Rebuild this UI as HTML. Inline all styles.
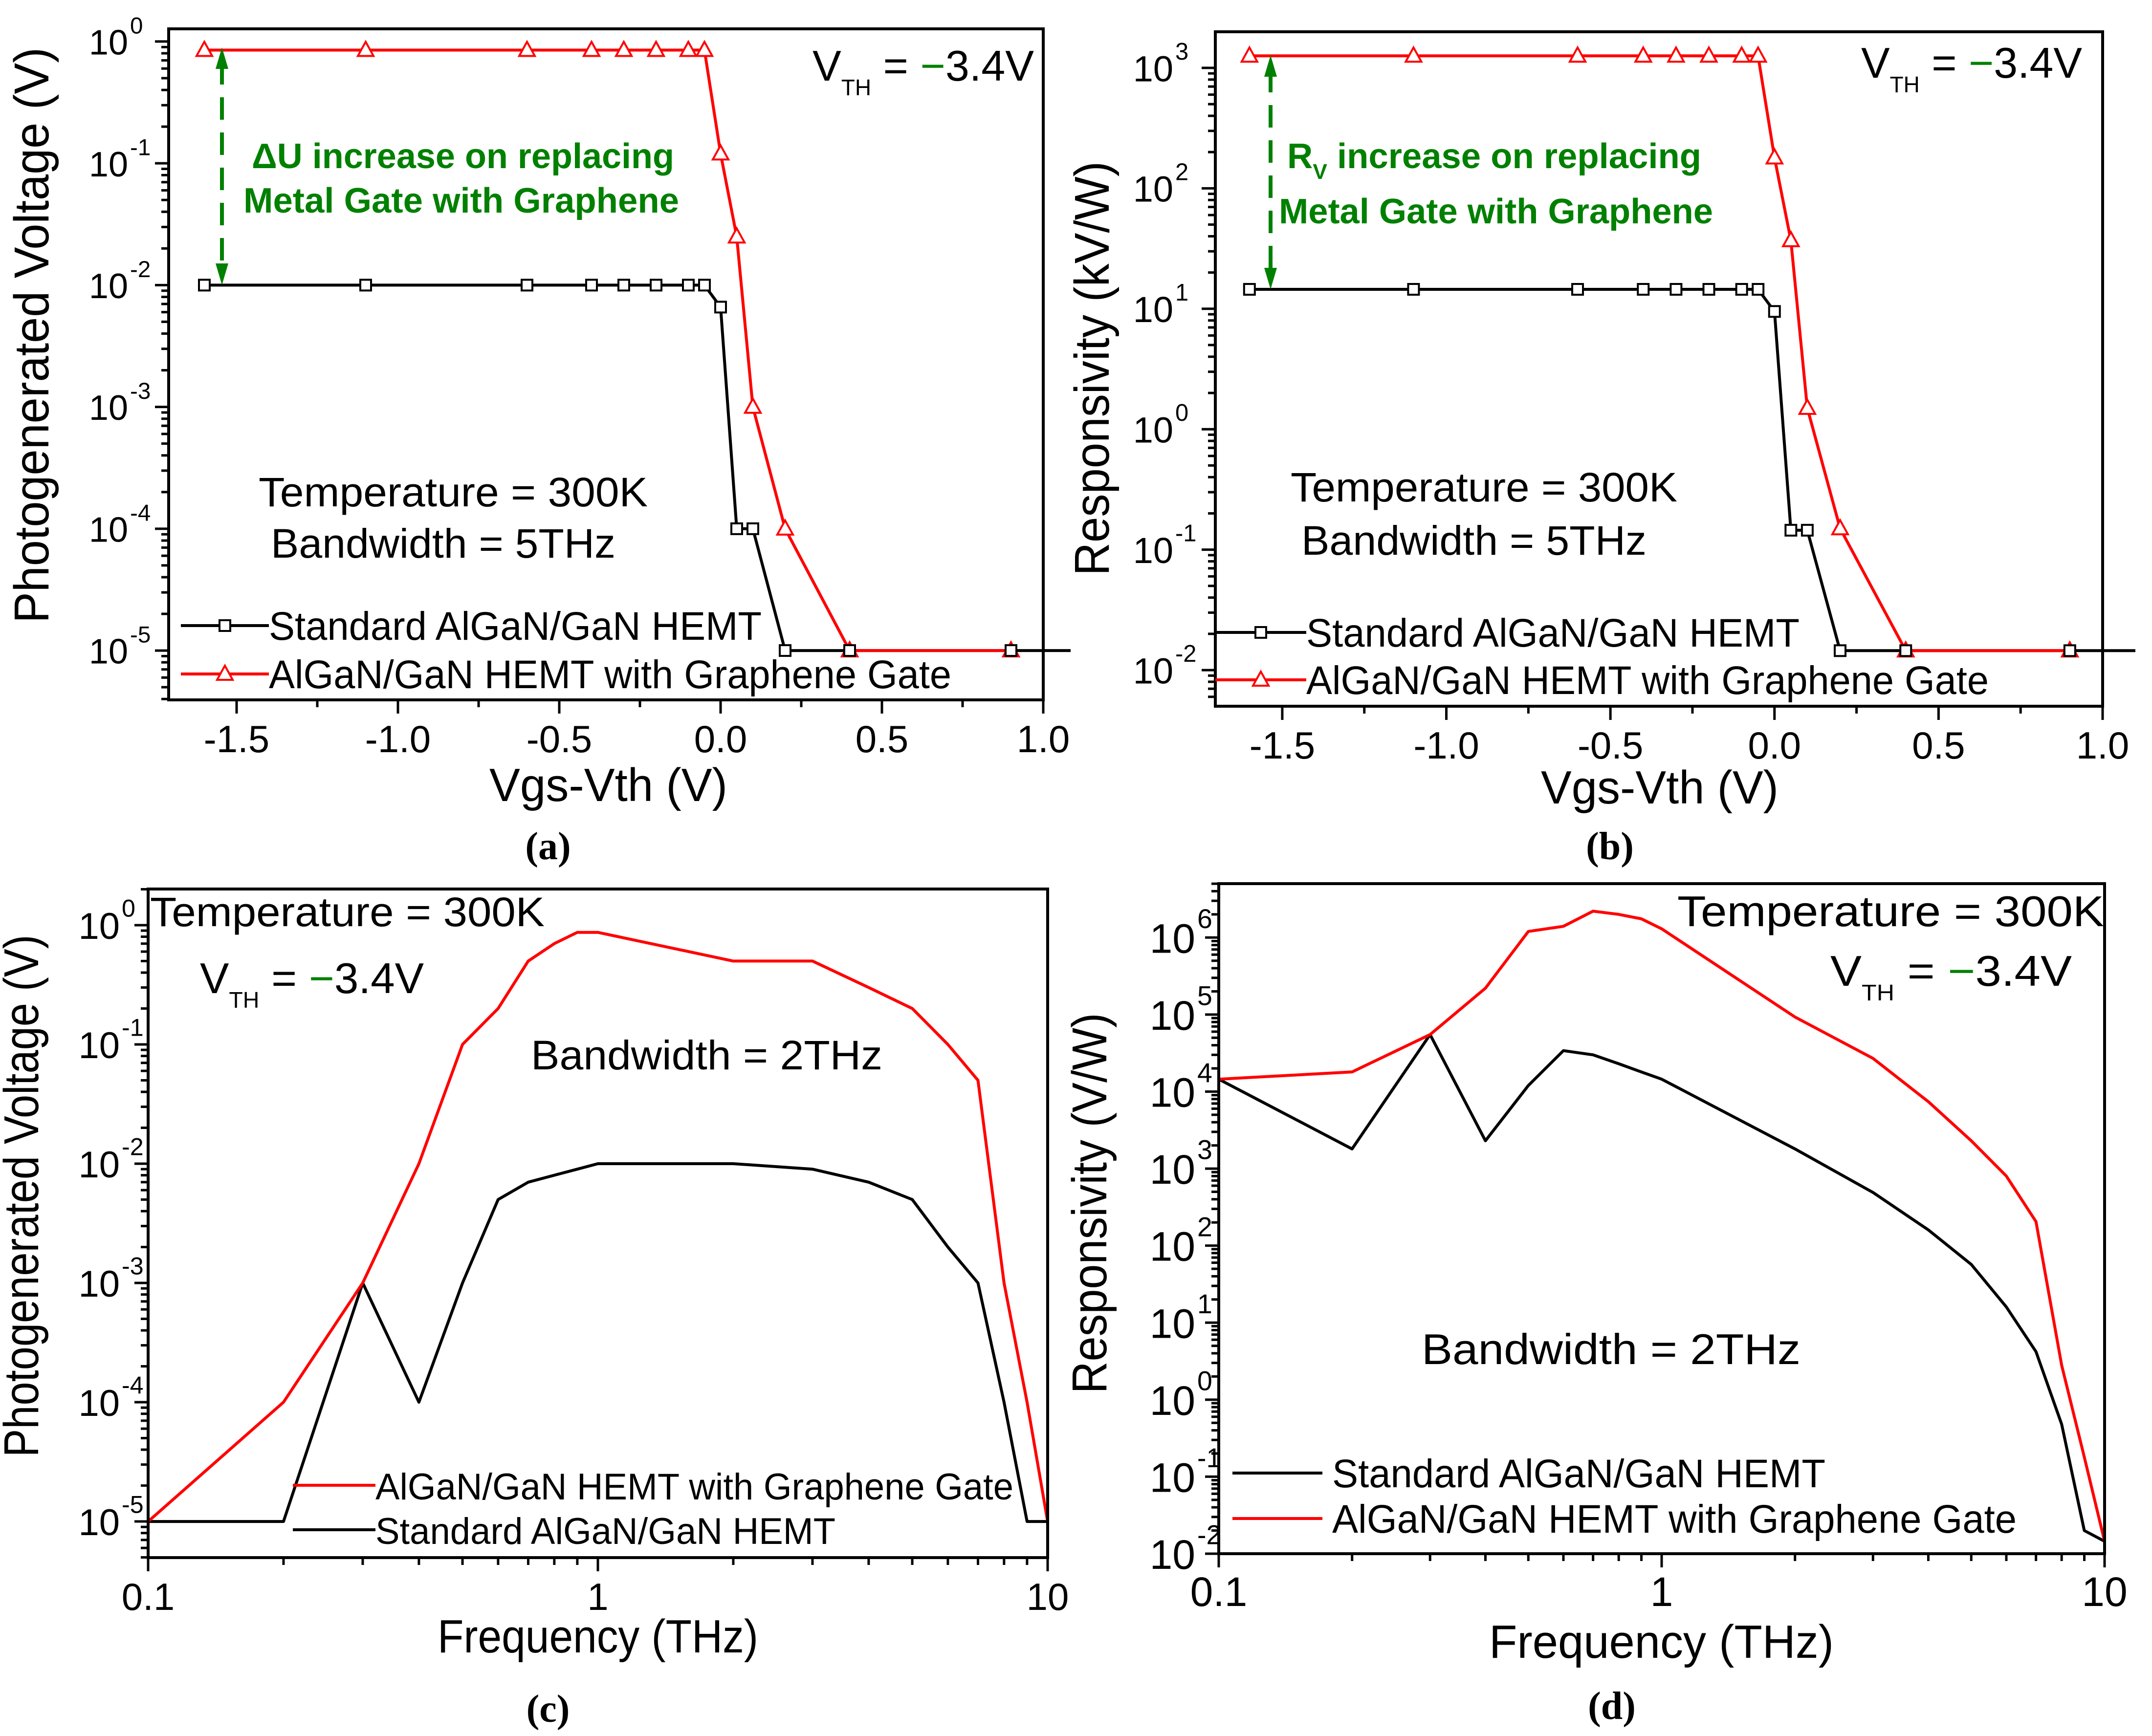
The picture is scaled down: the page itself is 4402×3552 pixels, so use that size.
<!DOCTYPE html>
<html><head><meta charset="utf-8">
<style>
html,body{margin:0;padding:0;background:#fff;}
svg{display:block;font-family:"Liberation Sans",Arial,sans-serif;}
</style></head>
<body>
<svg id="fig" xmlns="http://www.w3.org/2000/svg" width="4402" height="3552" viewBox="0 0 4402 3552">
<rect x="0" y="0" width="4402" height="3552" fill="#fff"/>
</svg>
<script>
// ---------- data ----------
const abX = [-1.6,-1.1,-0.6,-0.4,-0.3,-0.2,-0.1,-0.05,0,0.05,0.1,0.2,0.4,0.9];
const aStd = [0.01,0.01,0.01,0.01,0.01,0.01,0.01,0.01,0.0066,1e-4,1e-4,1e-5,1e-5,1e-5];
const aGr  = [0.85,0.85,0.85,0.85,0.85,0.85,0.85,0.85,0.12,0.025,0.001,1e-4,1e-5,1e-5];
const bStd = [14.5,14.5,14.5,14.5,14.5,14.5,14.5,14.5,9.5,0.145,0.145,0.0145,0.0145,0.0145];
const bGr  = [1260,1260,1260,1260,1260,1260,1260,1260,180,37,1.5,0.15,0.0145,0.0145];
const cdX = [0.1,0.2,0.3,0.4,0.5,0.6,0.7,0.8,0.9,1,2,3,4,5,6,7,8,9,10];
const cStd = [1e-5,1e-5,1e-3,1e-4,1e-3,5e-3,7e-3,8e-3,9e-3,0.01,0.01,9e-3,7e-3,5e-3,2e-3,1e-3,1e-4,1e-5,1e-5];
const cGr  = [1e-5,1e-4,1e-3,0.01,0.1,0.2,0.5,0.7,0.87,0.87,0.5,0.5,0.3,0.2,0.1,0.05,1e-3,1e-4,1e-5];
const dStd = [1.45e4,1.8e3,5.5e4,2.3e3,1.2e4,3.4e4,3.0e4,2.3e4,1.8e4,1.45e4,1.8e3,490,160,57,16,4.2,0.48,0.02,0.0145];
const dGr  = [1.45e4,1.8e4,5.5e4,2.2e5,1.2e6,1.4e6,2.2e6,2.0e6,1.75e6,1.3e6,9.3e4,2.7e4,7.4e3,2.3e3,800,205,2.8,0.18,0.0145];
const abTicks = [-1.5,-1.0,-0.5,0.0,0.5,1.0];
const abTickLabels = ["-1.5","-1.0","-0.5","0.0","0.5","1.0"];
const cdTicks = [0.1,1,10];
const cdTickLabels = ["0.1","1","10"];

const NS = "http://www.w3.org/2000/svg";
const fig = document.getElementById('fig');
const RED = "#ff0000", GREEN = "#008000";

function mk(tag, attrs, parent, name) {
  const el = document.createElementNS(NS, tag);
  for (const k in attrs) el.setAttribute(k, attrs[k]);
  
  
  (parent || fig).appendChild(el);
  return el;
}
function txt(x, y, s, size, parent, name, opts) {
  opts = opts || {};
  const a = {x:x, y:y, 'font-size':size, fill: opts.fill || '#000'};
  if (opts.anchor) a['text-anchor'] = opts.anchor;
  if (opts.len) { a.textLength = opts.len; a.lengthAdjust = 'spacingAndGlyphs'; }
  if (opts.weight) a['font-weight'] = opts.weight;
  if (opts.family) a['font-family'] = opts.family;
  if (opts.transform) a.transform = opts.transform;
  const t = mk('text', a, parent, name);
  t.textContent = s;
  return t;
}

function panel(cfg) {
  const g = mk('g', {}, fig, cfg.name);
  const L=cfg.L, R=cfg.R, T=cfg.T, B=cfg.B;
  const fs = cfg.tickFont || 70;
  const xs = cfg.xlog
    ? v => L + (Math.log10(v) - cfg.x0) / (cfg.x1 - cfg.x0) * (R - L)
    : v => L + (v - cfg.x0) / (cfg.x1 - cfg.x0) * (R - L);
  const ys = v => T + (cfg.y1 - Math.log10(v)) / (cfg.y1 - cfg.y0) * (B - T);
  for (let d = Math.floor(cfg.y0); d <= Math.ceil(cfg.y1); d++) {
    for (let m = 1; m <= 9; m++) {
      const lv = d + Math.log10(m);
      if (lv < cfg.y0 - 1e-6 || lv > cfg.y1 + 1e-6) continue;
      const y = ys(Math.pow(10, lv));
      const len = m === 1 ? 28 : 15;
      mk('line', {x1:L-len, x2:L, y1:y, y2:y, stroke:'#000', 'stroke-width':5}, g, m===1?'y-major-tick':'y-minor-tick');
      if (m === 1) {
        const w = fs * 1.112;
        const t = txt(cfg.ylabX - w, y + fs*0.37, '10', fs, g, 'y-tick-label', {});
        const sup = mk('tspan', {dy:-fs*0.6, 'font-size':fs*0.66, x: cfg.ylabX + 4}, t, 'y-tick-exponent');
        sup.textContent = String(d);
      }
    }
  }
  if (cfg.xlog) {
    for (let d = cfg.x0; d < cfg.x1; d++) for (let m = 1; m <= 9; m++) {
      const x = L + (d + Math.log10(m) - cfg.x0) / (cfg.x1 - cfg.x0) * (R - L);
      const len = m === 1 ? 28 : 15;
      mk('line', {x1:x, x2:x, y1:B, y2:B+len, stroke:'#000', 'stroke-width':5}, g, m===1?'x-major-tick':'x-minor-tick');
    }
    mk('line', {x1:R, x2:R, y1:B, y2:B+28, stroke:'#000', 'stroke-width':5}, g, 'x-major-tick');
  } else {
    for (let v = -1.75; v <= 1.001; v += 0.25) {
      if (v < cfg.x0) continue;
      const major = Math.abs(v*2 - Math.round(v*2)) < 1e-6;
      const x = xs(v);
      mk('line', {x1:x, x2:x, y1:B, y2:B+(major?28:15), stroke:'#000', 'stroke-width':5}, g, major?'x-major-tick':'x-minor-tick');
    }
  }
  cfg.ticks.forEach((v, i) => {
    txt(xs(v), B + 107, cfg.tickLabels[i], cfg.xTickFont || 78, g, 'x-tick-label', {anchor:'middle'});
  });
  const clipId = cfg.name + '-clip';
  const cp = mk('clipPath', {id: clipId}, g, 'plot-clip');
  mk('rect', {x:L, y:T, width:R-L, height:B-T}, cp, 'plot-clip-rect');
  const plot = mk('g', {'clip-path': 'url(#'+clipId+')'}, g, 'plot-area');
  function line(xv, yv, color, name, ext) {
    let d = xv.map((x, i) => (i ? 'L' : 'M') + xs(x).toFixed(1) + ' ' + ys(yv[i]).toFixed(1)).join(' ');
    if (ext) d += ' L' + ext + ' ' + ys(yv[yv.length-1]).toFixed(1);
    mk('path', {d:d, fill:'none', stroke:color, 'stroke-width':6, 'stroke-linejoin':'round'}, cfg.ext ? g : plot, name);
  }
  line(cfg.x, cfg.std, '#000', 'standard-hemt-line', cfg.ext);
  line(cfg.x, cfg.gr, RED, 'graphene-gate-line', null);
  if (cfg.markers) {
    cfg.x.forEach((x, i) => {
      const cx = xs(x), cy = ys(cfg.gr[i]);
      mk('path', {d:`M${cx} ${cy-17} L${cx+16} ${cy+12} L${cx-16} ${cy+12} Z`, fill:'#fff', stroke:RED, 'stroke-width':4}, g, 'graphene-gate-marker');
    });
    cfg.x.forEach((x, i) => {
      const cx = xs(x), cy = ys(cfg.std[i]);
      mk('rect', {x:cx-11, y:cy-11, width:22, height:22, fill:'#fff', stroke:'#000', 'stroke-width':4}, g, 'standard-hemt-marker');
    });
  }
  mk('rect', {x:L, y:T, width:R-L, height:B-T, fill:'none', stroke:'#000', 'stroke-width':6}, g, 'plot-frame');
  return {g, xs, ys};
}

function legend(g, lx1, lx2, y, color, marker, label, tx, len, size) {
  mk('line', {x1:lx1, x2:lx2, y1:y, y2:y, stroke:color, 'stroke-width':6}, g, 'legend-line');
  const cx = (lx1 + lx2) / 2;
  if (marker === 'sq') mk('rect', {x:cx-11, y:y-11, width:22, height:22, fill:'#fff', stroke:'#000', 'stroke-width':4}, g, 'legend-marker');
  if (marker === 'tri') mk('path', {d:`M${cx} ${y-17} L${cx+16} ${y+12} L${cx-16} ${y+12} Z`, fill:'#fff', stroke:RED, 'stroke-width':4}, g, 'legend-marker');
  txt(tx, y + 29, label, size || 82, g, 'legend-label', {len: len});
}
function vth(g, x, y, len) {
  const t = txt(x, y, 'V', 88, g, 'vth-annotation', {});
  const s = mk('tspan', {dy:30, 'font-size':46}, t, 'vth-subscript');
  s.textContent = 'TH';
  const e = mk('tspan', {dy:-30}, t, 'vth-equals');
  e.textContent = ' = ';
  const m = mk('tspan', {fill:GREEN}, t, 'vth-minus');
  m.textContent = '\u2212';
  const v = mk('tspan', {}, t, 'vth-value');
  v.textContent = '3.4V';
  t.setAttribute('textLength', len);
  t.setAttribute('lengthAdjust', 'spacingAndGlyphs');
}
function arrow(g, x, y1, y2) {
  mk('line', {x1:x, x2:x, y1:y1+30, y2:y2-30, stroke:GREEN, 'stroke-width':8, 'stroke-dasharray':'46 26'}, g, 'increase-arrow-shaft');
  mk('path', {d:`M${x} ${y1} L${x+13} ${y1+44} L${x-13} ${y1+44} Z`, fill:GREEN}, g, 'increase-arrow-head-top');
  mk('path', {d:`M${x} ${y2} L${x+13} ${y2-44} L${x-13} ${y2-44} Z`, fill:GREEN}, g, 'increase-arrow-head-bottom');
}
const SERIF = '"Liberation Serif",serif';

// ---------- panel a ----------
const pa = panel({name:'panel-a', L:345, R:2134, T:59, B:1432, x0:-1.7106, x1:1.0, y0:-5.405, y1:0.104,
  x:abX, std:aStd, gr:aGr, markers:true, ticks:abTicks, tickLabels:abTickLabels, ylabX:262, ext:2190, tickFont:72});
txt(99, 686, 'Photogenerated Voltage (V)', 100, pa.g, 'y-axis-title', {anchor:'middle', len:1178, transform:'rotate(-90 99 686)'});
txt(1001, 1639, 'Vgs-Vth (V)', 96, pa.g, 'x-axis-title', {len:487});
txt(1121, 1758, '(a)', 80, pa.g, 'panel-label', {anchor:'middle', family:SERIF, weight:'bold'});
legend(pa.g, 370, 550, 1280, '#000', 'sq', 'Standard AlGaN/GaN HEMT', 550, 1008);
legend(pa.g, 370, 550, 1379, RED, 'tri', 'AlGaN/GaN HEMT with Graphene Gate', 550, 1396);
txt(529, 1036, 'Temperature = 300K', 84, pa.g, 'temperature-annotation', {len:796});
txt(554, 1141, 'Bandwidth = 5THz', 84, pa.g, 'bandwidth-annotation', {len:705});
txt(515, 344, '\u0394U increase on replacing', 72, pa.g, 'increase-annotation', {len:864, fill:GREEN, weight:'bold'});
txt(498, 435, 'Metal Gate with Graphene', 72, pa.g, 'increase-annotation-line2', {len:891, fill:GREEN, weight:'bold'});
vth(pa.g, 1662, 165, 453);
arrow(pa.g, 454, 97, 583);

// ---------- panel b ----------
const pb = panel({name:'panel-b', L:2486, R:4301, T:65, B:1445, x0:-1.704, x1:1.0, y0:-2.30, y1:3.30,
  x:abX, std:bStd, gr:bGr, markers:true, ticks:abTicks, tickLabels:abTickLabels, ylabX:2400, ext:4368, tickFont:74});
txt(2268, 754, 'Responsivity (kV/W)', 100, pb.g, 'y-axis-title', {anchor:'middle', len:848, transform:'rotate(-90 2268 754)'});
txt(3152, 1644, 'Vgs-Vth (V)', 96, pb.g, 'x-axis-title', {len:486});
txt(3293, 1758, '(b)', 80, pb.g, 'panel-label', {anchor:'middle', family:SERIF, weight:'bold'});
legend(pb.g, 2486, 2672, 1294, '#000', 'sq', 'Standard AlGaN/GaN HEMT', 2672, 1009);
legend(pb.g, 2486, 2672, 1391, RED, 'tri', 'AlGaN/GaN HEMT with Graphene Gate', 2672, 1396);
txt(2640, 1026, 'Temperature = 300K', 84, pb.g, 'temperature-annotation', {len:791});
txt(2662, 1135, 'Bandwidth = 5THz', 84, pb.g, 'bandwidth-annotation', {len:706});
(function(){
  const t = txt(2633, 344, 'R', 72, pb.g, 'increase-annotation', {fill:GREEN, weight:'bold'});
  const s = mk('tspan', {dy:22, 'font-size':44}, t, 'rv-subscript');
  s.textContent = 'V';
  const r = mk('tspan', {dy:-22}, t, 'increase-annotation-rest');
  r.textContent = ' increase on replacing';
  t.setAttribute('textLength', 847);
  t.setAttribute('lengthAdjust', 'spacingAndGlyphs');
})();
txt(2616, 457, 'Metal Gate with Graphene', 72, pb.g, 'increase-annotation-line2', {len:888, fill:GREEN, weight:'bold'});
vth(pb.g, 3807, 159, 452);
arrow(pb.g, 2599, 113, 592);

// ---------- panel c ----------
const pc = panel({name:'panel-c', L:303, R:2143, T:1819, B:3187, xlog:true, x0:-1, x1:1, y0:-5.303, y1:0.303,
  x:cdX, std:cStd, gr:cGr, markers:false, ticks:cdTicks, tickLabels:cdTickLabels, ylabX:245, tickFont:76});
txt(78, 2447, 'Photogenerated Voltage (V)', 100, pc.g, 'y-axis-title', {anchor:'middle', len:1069, transform:'rotate(-90 78 2447)'});
txt(895, 3381, 'Frequency (THz)', 96, pc.g, 'x-axis-title', {len:656});
txt(1121, 3523, '(c)', 80, pc.g, 'panel-label', {anchor:'middle', family:SERIF, weight:'bold'});
legend(pc.g, 599, 768, 3039, RED, null, 'AlGaN/GaN HEMT with Graphene Gate', 768, 1305, 76);
legend(pc.g, 599, 768, 3130, '#000', null, 'Standard AlGaN/GaN HEMT', 768, 941, 76);
txt(307, 1895, 'Temperature = 300K', 84, pc.g, 'temperature-annotation', {len:807});
txt(1086, 2188, 'Bandwidth = 2THz', 84, pc.g, 'bandwidth-annotation', {len:719});
vth(pc.g, 409, 2032, 458);

// ---------- panel d ----------
const pd = panel({name:'panel-d', L:2493, R:4305, T:1808, B:3179, xlog:true, x0:-1, x1:1, y0:-2, y1:6.70,
  x:cdX, std:dStd, gr:dGr, markers:false, ticks:cdTicks, tickLabels:cdTickLabels, ylabX:2445, tickFont:84, xTickFont:84});
txt(2263, 2462, 'Responsivity (V/W)', 100, pd.g, 'y-axis-title', {anchor:'middle', len:779, transform:'rotate(-90 2263 2462)'});
txt(3046, 3392, 'Frequency (THz)', 96, pd.g, 'x-axis-title', {len:705});
txt(3297, 3517, '(d)', 80, pd.g, 'panel-label', {anchor:'middle', family:SERIF, weight:'bold'});
legend(pd.g, 2521, 2705, 3014, '#000', null, 'Standard AlGaN/GaN HEMT', 2725, 1009);
legend(pd.g, 2521, 2705, 3107, RED, null, 'AlGaN/GaN HEMT with Graphene Gate', 2725, 1400);
txt(3431, 1895, 'Temperature = 300K', 88, pd.g, 'temperature-annotation', {len:873});
txt(2908, 2791, 'Bandwidth = 2THz', 88, pd.g, 'bandwidth-annotation', {len:775});
vth(pd.g, 3744, 2017, 494);
</script>
</body></html>
